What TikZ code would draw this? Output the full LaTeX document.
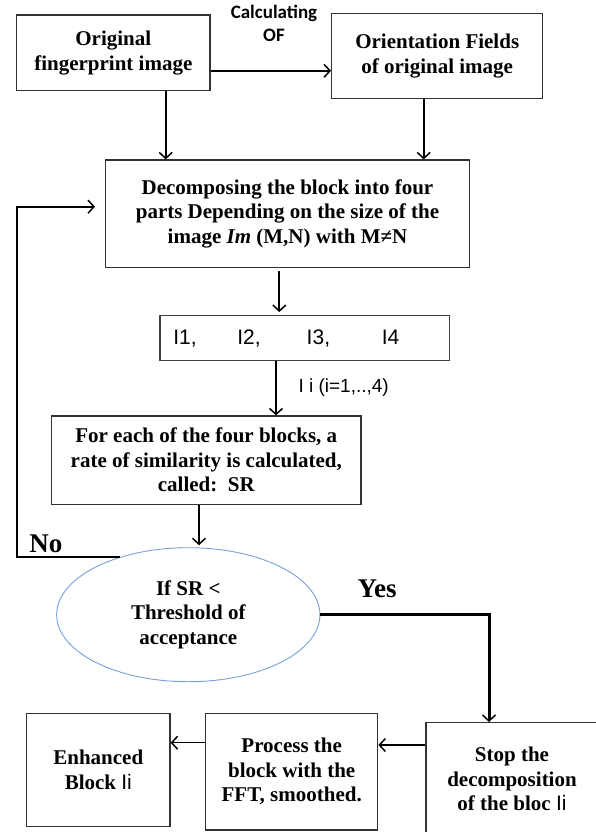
\documentclass[tikz,border=0pt]{standalone}
\usepackage{fontspec}
\setmainfont{Liberation Serif}
\newfontfamily\calib{Carlito}
\newfontfamily\hand{Liberation Sans}
\usetikzlibrary{arrows.meta,shapes.geometric}
\begin{document}
\begin{tikzpicture}[x=1pt,y=-1pt,
  box/.style={draw=black!80,line width=1.3pt,align=center,inner sep=0pt,
    font=\fontsize{21}{24.5}\selectfont\bfseries},
  arr/.style={-{Straight Barb[length=6pt,width=13pt,line width=1.5pt]},line width=1.6pt,black},
  thinarr/.style={arr,line width=1.3pt},
  lbl/.style={inner sep=0pt,font=\fontsize{27}{30}\selectfont\bfseries}]
\useasboundingbox (0,0) rectangle (596,832);
\clip (0,0) rectangle (596,832);

\node[box,minimum width=193.3pt,minimum height=75.7pt] (b1) at (113.3,52.8) {Original\\fingerprint image};
\node[box,minimum width=211pt,minimum height=85pt] (b2) at (437.2,55.8) {Orientation Fields\\of original image};
\node[inner sep=0pt,align=center,font=\calib\fontsize{19}{23.3}\selectfont\bfseries] (calc) at (274,23.3) {Calculating\\OF};
\node[box,minimum width=363.6pt,minimum height=107.3pt] (b3) at (287.5,213.7)
  {Decomposing the block into four\\parts Depending on the size of the\\image \textit{Im} (M,N) with M≠N};
\node[box,draw=black!75,text width=262.7pt,inner xsep=13.3pt,minimum height=45pt,align=left,
  font=\hand\fontsize{21}{24}\selectfont] (ib) at (304.7,338.2)
  {\makebox[64pt][l]{I1,}\makebox[69.4pt][l]{I2,}\makebox[75pt][l]{I3,}I4};
\node[inner sep=0pt,anchor=west,font=\hand\fontsize{19}{21}\selectfont] (ilab) at (298.3,387.3) {I i (i=1,..,4)};
\node[box,minimum width=309.3pt,minimum height=88.3pt] (b4) at (206.3,460.2)
  {For each of the four blocks, a\\rate of similarity is calculated,\\called:\ \ SR};
\node[box,ellipse,draw=cyan!50!blue!55,line width=0.9pt,minimum width=263.3pt,minimum height=134pt] (ell) at (188.3,614.7)
  {If SR <\\Threshold of\\acceptance};
\node[lbl] (no) at (45.8,543.3) {No};
\node[lbl] (yes) at (377,588.6) {Yes};
\node[box,minimum width=143.3pt,minimum height=113.4pt] (enh) at (98.3,770) {Enhanced\\Block {\hand\mdseries Ii}};
\node[box,minimum width=172pt,minimum height=116.7pt] (proc) at (291.7,771.7) {Process the\\block with the\\FFT, smoothed.};
\node[box,minimum width=172pt,minimum height=113.3pt] (stop) at (512,779.3) {Stop the\\decomposition\\of the bloc {\hand\mdseries Ii}};
\coordinate (fb) at (17.3,0);

\draw[arr,line width=2pt] ([yshift=-18pt]b1.east) -- ([yshift=-18pt]b1.east -| b2.west);
\draw[arr,line width=2.2pt] ([xshift=52.4pt]b1.south) -- ([xshift=52.4pt]b1.south |- b3.north);
\draw[arr] ([xshift=-13.5pt]b2.south) -- ([xshift=-13.5pt]b2.south |- b3.north);
\draw[arr,line width=2pt,shorten <=3pt,shorten >=3pt] ([xshift=-8.2pt]b3.south) -- ([xshift=-8.2pt]b3.south |- ib.north);
\draw[thinarr] ([xshift=-28.7pt]ib.south) -- ([xshift=-28.7pt]ib.south |- b4.north);
\draw[thinarr,shorten >=2pt] ([xshift=-7.3pt]b4.south) -- ([xshift=-7.3pt]b4.south |- ell.north);
\draw[arr,line width=1.8pt,shorten >=10pt] (ell.140) -- (ell.140 -| fb) |- ([yshift=7pt]b3.west);
\draw[arr,line width=3pt] (ell.east) -| ([xshift=-23pt]stop.north);
\draw[thinarr] ([yshift=34.3pt]stop.west) -- ([yshift=34.3pt]stop.west -| proc.east);
\draw[thinarr] ([yshift=29pt]proc.west) -- ([yshift=29pt]proc.west -| enh.east);
\end{tikzpicture}
\end{document}
